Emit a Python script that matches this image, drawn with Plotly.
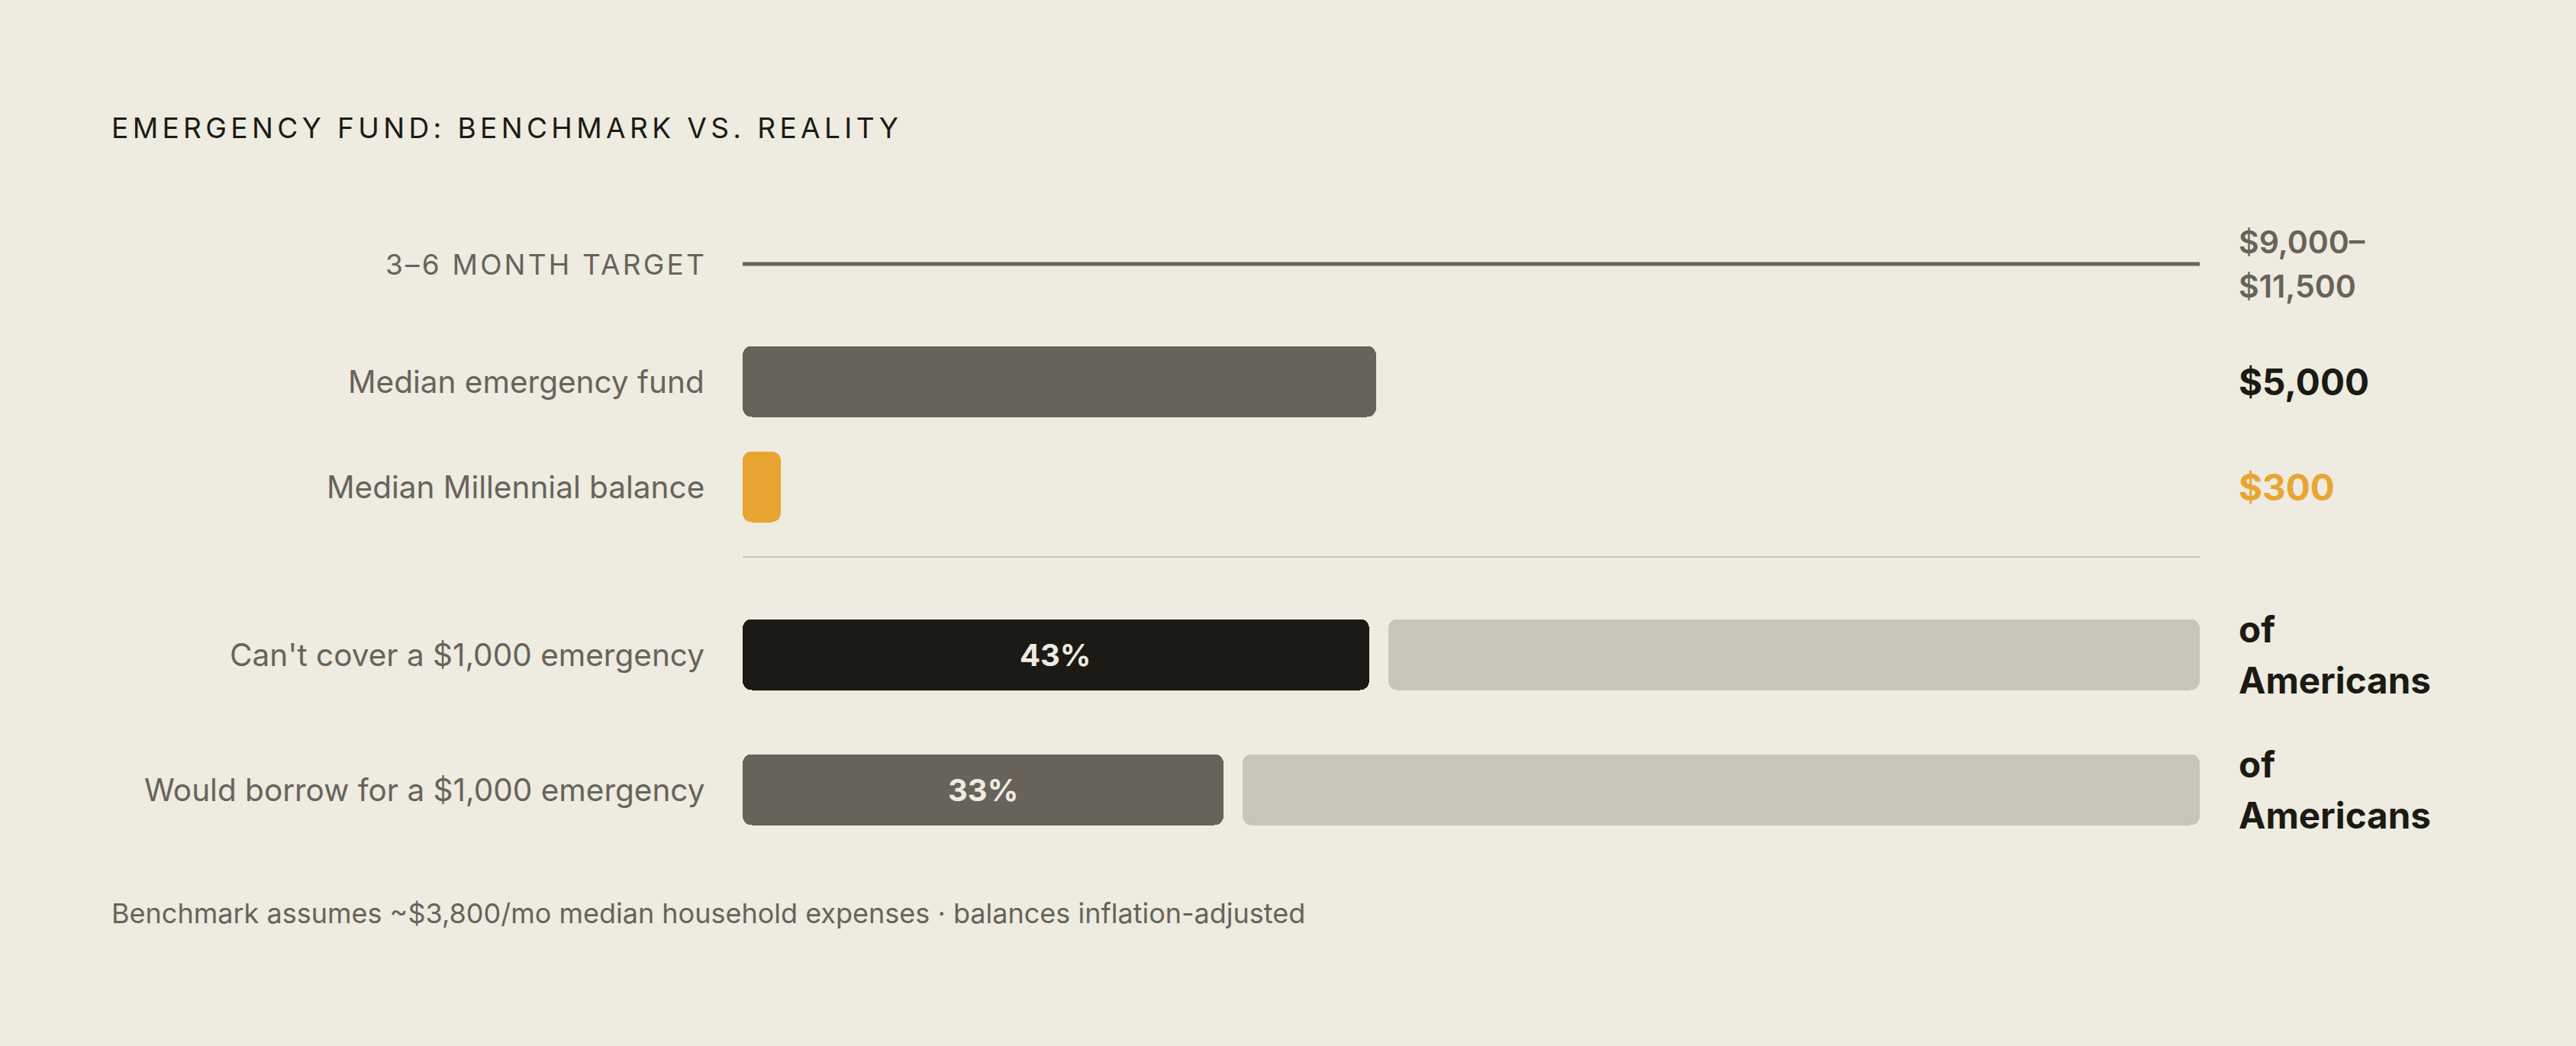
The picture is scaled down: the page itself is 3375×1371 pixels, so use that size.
import plotly.graph_objects as go

# ---------------- data ----------------
title = "EMERGENCY FUND: BENCHMARK VS. REALITY"
target_label = "3–6 MONTH TARGET"
target_low = 9000
target_high = 11500
target_text = ["$9,000–", "$11,500"]

dollar_labels = ["Median emergency fund", "Median Millennial balance"]
dollar_values = [5000, 300]
dollar_text = ["$5,000", "$300"]

pct_labels = ["Can't cover a $1,000 emergency", "Would borrow for a $1,000 emergency"]
pct_values = [43, 33]
pct_text = ["43%", "33%"]
pct_suffix = ["of", "Americans"]

footnote = "Benchmark assumes ~$3,800/mo median household expenses · balances inflation-adjusted"

# ---------------- layout / style ----------------
W, H = 3375, 1371
PLOT_L, PLOT_R = 973, 2882
PW = PLOT_R - PLOT_L
ROW_TARGET = 346
ROW_DOLLAR = [500, 638]
ROW_SEP = 730
ROW_PCT = [858, 1035]
TITLE_Y = 167
FOOT_Y = 1197
TEXT_LEFT_PX = 144
BAR_H = 93
GAP_PX = 25
RADIUS = 12
LABEL_PAD = 48
VALUE_PAD = 49

BG = "#EEEBE0"
DARK = "#1C1A15"
GRAY = "#67635B"
LIGHT = "#C8C5B9"
ORANGE = "#E8A532"
FONT = "Inter"

dollar_colors = [GRAY, ORANGE]
dollar_text_colors = [DARK, ORANGE]
pct_colors = [DARK, GRAY]

fig = go.Figure()


def rounded_bar(xaxis, y, x0, x1, color):
    fig.add_trace(go.Bar(
        orientation="h", y=[y], base=[x0], x=[x1 - x0],
        width=BAR_H, xaxis=xaxis, yaxis="y",
        marker=dict(color=color, cornerradius=RADIUS, line=dict(width=0)),
        hoverinfo="skip", showlegend=False,
    ))


# target line
fig.add_trace(go.Scatter(
    x=[0, target_high], y=[ROW_TARGET, ROW_TARGET], mode="lines",
    line=dict(color=GRAY, width=5), xaxis="x", yaxis="y",
    hoverinfo="skip", showlegend=False,
))

# dollar bars
for v, yy, c in zip(dollar_values, ROW_DOLLAR, dollar_colors):
    rounded_bar("x", yy, 0, v, c)

# percent bars + remainder
gap_pct = GAP_PX / PW * 100
for v, yy, c in zip(pct_values, ROW_PCT, pct_colors):
    rounded_bar("x2", yy, 0, v, c)
    rounded_bar("x2", yy, v + gap_pct, 100, LIGHT)

annotations = []


def ann(text, x, y, xref, xanchor, size, color, weight=400, xshift=0, yshift=0):
    annotations.append(dict(
        text=text, x=x, y=y, xref=xref, yref="y", xanchor=xanchor, yanchor="middle",
        xshift=xshift, yshift=yshift, showarrow=False, align=xanchor,
        font=dict(family=FONT, size=size, color=color, weight=weight),
    ))


# bar value labels
for v, yy, t in zip(pct_values, ROW_PCT, pct_text):
    ann(t, v / 2, yy, "x2", "center", 40, BG, weight=700)

# title
ann('<span style="letter-spacing:5.4px">' + title + '</span>',
    (TEXT_LEFT_PX - PLOT_L) / PW, TITLE_Y, "paper", "left", 37, DARK)
# footnote
ann(footnote, (TEXT_LEFT_PX - PLOT_L) / PW, FOOT_Y, "paper", "left", 36, GRAY)

# left labels
ann('<span style="letter-spacing:3.2px">' + target_label + '</span>', 0, ROW_TARGET, "x", "right", 37, GRAY,
    xshift=-LABEL_PAD + 3)
for lab, yy in zip(dollar_labels, ROW_DOLLAR):
    ann(lab, 0, yy, "x", "right", 40.5, GRAY, xshift=-LABEL_PAD)
for lab, yy in zip(pct_labels, ROW_PCT):
    ann(lab, 0, yy, "x", "right", 40.5, GRAY, xshift=-LABEL_PAD)

# right values (two-line labels drawn line by line for 1.4 line height)
for i, t in enumerate(target_text):
    ann(t, target_high, ROW_TARGET, "x", "left", 41, GRAY, weight=600, xshift=VALUE_PAD,
        yshift=(0.5 - i) * 41 * 1.4)
for t, yy, c in zip(dollar_text, ROW_DOLLAR, dollar_text_colors):
    ann(t, target_high, yy, "x", "left", 47.5, c, weight=700, xshift=VALUE_PAD)
for yy in ROW_PCT:
    for i, t in enumerate(pct_suffix):
        ann(t, target_high, yy, "x", "left", 47.5, DARK, weight=700, xshift=VALUE_PAD,
            yshift=(0.5 - i) * 47.5 * 1.4)

fig.update_layout(
    width=W, height=H,
    margin=dict(l=PLOT_L, r=W - PLOT_R, t=0, b=0, pad=0),
    paper_bgcolor=BG, plot_bgcolor=BG,
    barmode="overlay", bargap=0,
    showlegend=False,
    xaxis=dict(range=[0, target_high], visible=False, fixedrange=True),
    xaxis2=dict(range=[0, 100], overlaying="x", visible=False, fixedrange=True),
    yaxis=dict(range=[H, 0], visible=False, fixedrange=True),
    annotations=annotations,
    shapes=[dict(type="line", xref="x", yref="y", x0=0, x1=target_high, y0=ROW_SEP, y1=ROW_SEP,
                 line=dict(color=LIGHT, width=2))],
    font=dict(family=FONT),
)

fig.write_html(
    "out.html",
    config={"displayModeBar": False, "staticPlot": True},
    post_script="document.body.style.margin='0';document.body.style.overflow='hidden';",
)
